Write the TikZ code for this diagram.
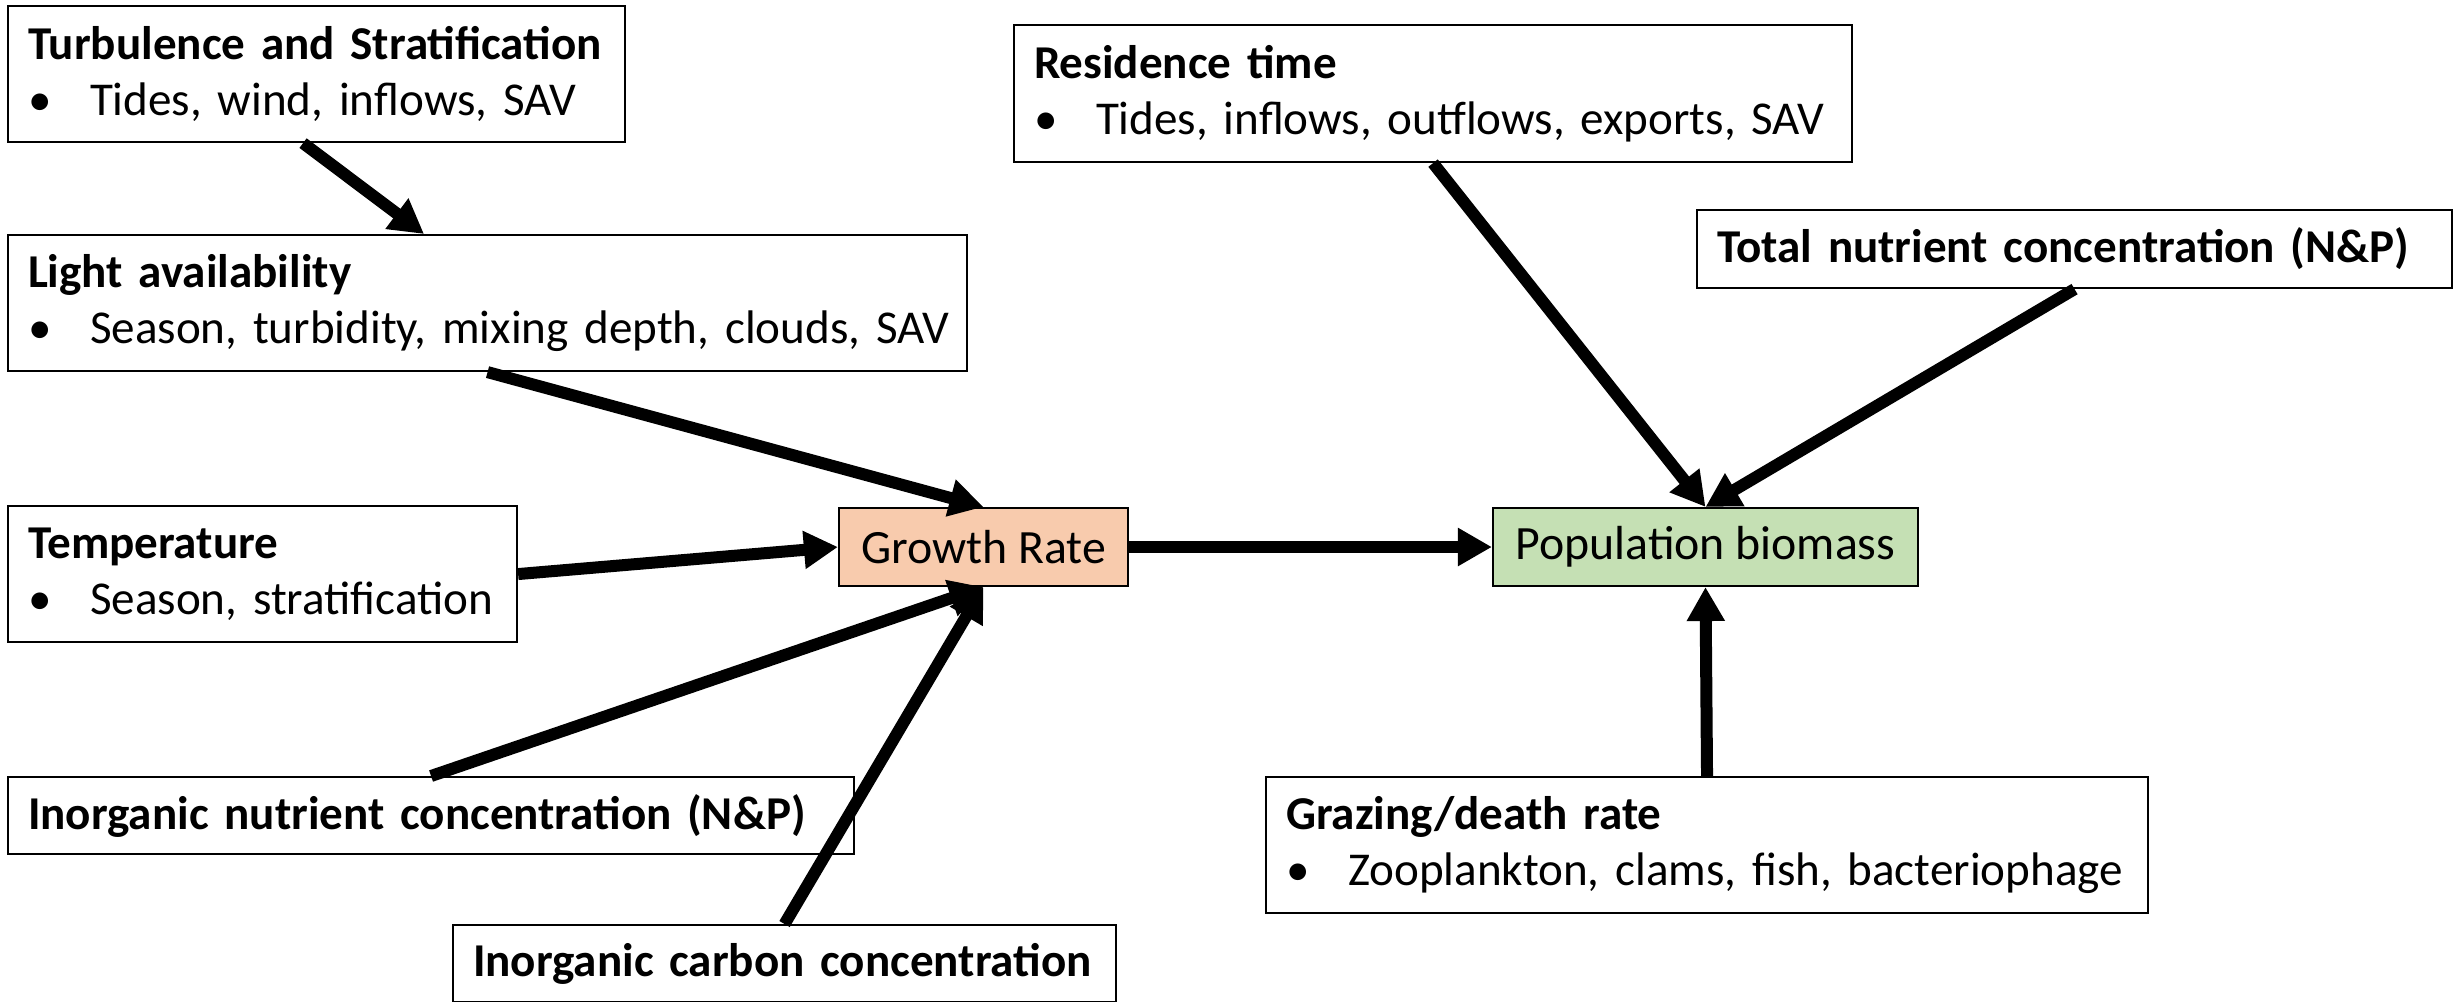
\documentclass[tikz,border=0pt]{standalone}
\usepackage{fontspec}
\setmainfont{Carlito}
\usetikzlibrary{arrows.meta}

\definecolor{growthfill}{HTML}{F8CBAD}
\definecolor{biomassfill}{HTML}{C5E0B4}

\newcommand{\heading}[1]{\mbox{\textbf{#1}}}
\newcommand{\bulletitem}[1]{\mbox{\makebox[0.62cm][l]{\textbullet}#1}}

\begin{document}
\begin{tikzpicture}[
	factor/.style = {draw, line width = 0.6pt, rectangle, anchor = north west, align = left,
		inner xsep = 0.2cm, inner ysep = 0pt, font = \fontsize{13.4}{15.9}\selectfont},
	rate/.style = {draw, line width = 0.6pt, rectangle, minimum height = 0.78cm,
		inner sep = 0pt, font = \fontsize{13.6}{16}\selectfont},
	link/.style = {line width = 0.12cm, -{Triangle[length = 0.34cm, width = 0.36cm]}}
]

	\useasboundingbox (0, 0) rectangle (24.58, -10.01);

	% Growth side
	
	\node [factor, text width = 5.77cm, minimum height = 1.36cm] (turb) at (0.07, -0.05)
		{\heading{Turbulence and Stratification}\\ \bulletitem{Tides, wind, inflows, SAV}};
	
	\node [factor, text width = 9.19cm, minimum height = 1.36cm] (light) at (0.07, -2.34)
		{\heading{Light availability}\\ \bulletitem{Season, turbidity, mixing depth, clouds, SAV}};
	
	\node [factor, text width = 4.69cm, minimum height = 1.36cm] (temp) at (0.07, -5.05)
		{\heading{Temperature}\\ \bulletitem{Season, stratification}};
	
	\node [factor, text width = 8.06cm, minimum height = 0.77cm] (inut) at (0.07, -7.76)
		{\heading{Inorganic nutrient concentration (N\&P)}};
	
	\node [factor, text width = 6.23cm, minimum height = 0.77cm] (icarb) at (4.52, -9.24)
		{\heading{Inorganic carbon concentration}};
	
	% Biomass side
	
	\node [factor, text width = 7.98cm, minimum height = 1.37cm] (resid) at (10.13, -0.24)
		{\heading{Residence time}\\ \bulletitem{Tides, inflows, outflows, exports, SAV}};
	
	\node [factor, text width = 7.15cm, minimum height = 0.78cm] (totnut) at (16.96, -2.09)
		{\heading{Total nutrient concentration (N\&P)}};
	
	\node [factor, text width = 8.42cm, minimum height = 1.36cm] (graze) at (12.65, -7.76)
		{\heading{Grazing/death rate}\\ \bulletitem{Zooplankton, clams, fish, bacteriophage}};
	
	% Rates
	
	\node [rate, fill = growthfill, minimum width = 2.89cm] (growth) at (9.835, -5.47) {Growth Rate};
	
	\node [rate, fill = biomassfill, minimum width = 4.25cm] (pop) at (17.055, -5.47) {Population biomass};
	
	% Arrows
	
	\draw [link] ([xshift = -0.135cm] turb.south) -- ([xshift = -0.635cm] light.north);
	\draw [link] (light.south) -- (growth.north);
	\draw [link] (temp.east) -- (growth.west);
	\draw [link] (inut.north) -- (growth.south);
	\draw [link] (icarb.north) -- (growth.south);
	\draw [link] (growth.east) -- (pop.west);
	\draw [link] (resid.south) -- (pop.north);
	\draw [link] (totnut.south) -- (pop.north);
	\draw [link] (graze.north) -- (pop.south);

\end{tikzpicture}
\end{document}
